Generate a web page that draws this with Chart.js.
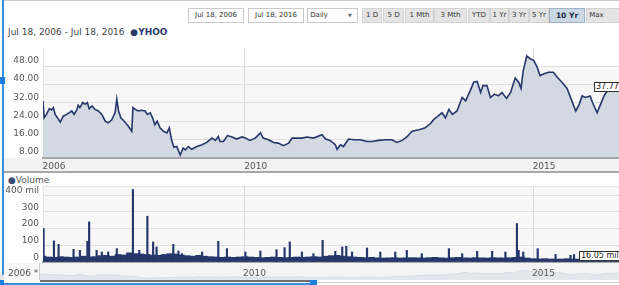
<!DOCTYPE html>
<html>
<head>
<meta charset="utf-8">
<script src="https://cdn.jsdelivr.net/npm/chart.js@4.4.1/dist/chart.umd.min.js"></script>
<style>
  html, body { margin: 0; padding: 0; }
  body { width: 619px; height: 285px; overflow: hidden; background: #fff; position: relative; font-family: "DejaVu Sans", sans-serif; color: #333; }
  .abs { position: absolute; }
  .box { position: absolute; top: 8px; height: 13px; line-height: 13px; font-size: 7px; border: 1px solid #c9c9c9; background: #fff; color: #333; box-sizing: content-box; white-space: nowrap; }
  .btn { position: absolute; top: 8px; height: 13px; line-height: 13px; font-size: 7px; background: #e4e4e4; border: 1px solid #d2d2d2; color: #333; text-align: center; white-space: nowrap; }
  .btn.on { background: #cbd7e4; border-color: #9fb2c8; font-weight: bold; font-size: 7.5px; color: #1d2a44; }
  canvas { position: absolute; left: 0; }
  .tag { position: absolute; font-size: 8px; line-height: 8px; padding: 0 1px; border: 1px solid #333; background: #fff; color: #222; white-space: nowrap; }
</style>
</head>
<body>

<!-- frame -->
<div class="abs" style="left:3px;top:0;width:616px;height:1px;background:#c9c9c9"></div>
<div class="abs" style="left:2px;top:0;width:2px;height:285px;background:#3b8fe0"></div>
<div class="abs" style="left:0;top:77px;width:5px;height:7px;background:#1f7fe0"></div>

<!-- toolbar -->
<div class="box" style="left:188px;width:54px;text-align:center">Jul 18, 2006</div>
<div class="box" style="left:248px;width:54px;text-align:center">Jul 18, 2016</div>
<div class="box" style="left:307px;width:49px;padding-left:0">&nbsp;Daily<span style="position:absolute;left:40px;font-size:5px;color:#666">&#9660;</span></div>
<div class="btn" style="left:362px;width:18px">1 D</div>
<div class="btn" style="left:383px;width:19px">5 D</div>
<div class="btn" style="left:405px;width:27px">1 Mth</div>
<div class="btn" style="left:434px;width:31px">3 Mth</div>
<div class="btn" style="left:468px;width:20px">YTD</div>
<div class="btn" style="left:490px;width:17px">1 Yr</div>
<div class="btn" style="left:509px;width:18px">3 Yr</div>
<div class="btn" style="left:529px;width:18px">5 Yr</div>
<div class="btn on" style="left:549px;width:34px">10 Yr</div>
<div class="btn" style="left:586px;width:40px;text-align:left">&nbsp;Max</div>

<!-- heading -->
<div class="abs" style="left:8px;top:27px;font-size:9px;color:#444;white-space:nowrap">Jul 18, 2006 - Jul 18, 2016 &nbsp;<b style="color:#2b3b6b">&#9679;YHOO</b></div>

<!-- price panel background -->
<div class="abs" style="left:43px;top:48px;width:576px;height:110px;background:#f7f7f7;border-top:1px solid #e4e4e4"></div>
<div class="abs" style="left:43px;top:48px;width:576px;height:19px;background:#fff"></div>
<div class="abs" style="left:4px;top:158px;width:615px;height:14px;background:#f2f2f2"></div>
<div class="abs" style="left:4px;top:171px;width:615px;height:2px;background:#a8a8a8"></div>
<canvas id="priceChart" width="619" height="127" style="top:46px"></canvas>
<div class="tag" style="left:594px;top:82px">37.77</div>

<!-- volume panel -->
<div class="abs" style="left:8px;top:175px;font-size:9px;color:#3a4a70;white-space:nowrap">&#9679;<span style="color:#555">Volume</span></div>
<div class="abs" style="left:43px;top:186px;width:576px;height:76px;background:#f8f8f8;border-top:1px solid #e4e4e4"></div>
<canvas id="volumeChart" width="619" height="80" style="top:183px"></canvas>
<div class="tag" style="left:579px;top:251px">16.05 mil</div>

<!-- navigator -->
<div class="abs" style="left:4px;top:263px;width:615px;height:17px;background:#f4f4f4"></div>
<canvas id="navChart" width="619" height="17" style="top:263px"></canvas>
<div class="abs" style="left:4px;top:263px;width:35px;height:17px;background:#f7f7f7;border-right:1px solid #cfcfcf"></div>
<div class="abs" style="left:8px;top:268px;font-size:9px;color:#555">2006 *</div>
<div class="abs" style="left:243px;top:268px;font-size:9px;color:#555">2010</div>
<div class="abs" style="left:532px;top:268px;font-size:9px;color:#555">2015</div>
<div class="abs" style="left:40px;top:280px;width:271px;height:2px;background:#6f6f6f"></div>
<div class="abs" style="left:0;top:283px;width:313px;height:2px;background:#3b8fe0"></div>
<div class="abs" style="left:317px;top:282px;width:302px;height:1px;background:#c9d3de"></div>
<div class="abs" style="left:0;top:280px;width:4px;height:5px;background:#1f7fe0"></div>
<div class="abs" style="left:310px;top:280px;width:7px;height:5px;background:#1f7fe0"></div>

<script>
// --- DATA ---
const X_MIN = 2006.5;
const X_MAX = 2016.49;

const priceYears = [
  2006.50, 2006.52, 2006.56, 2006.61, 2006.65, 2006.68, 2006.71, 2006.77, 2006.80, 2006.85,
  2006.91, 2006.97, 2007.00, 2007.04, 2007.09, 2007.11, 2007.14, 2007.19, 2007.23, 2007.27,
  2007.30, 2007.35, 2007.40, 2007.46, 2007.52, 2007.58, 2007.63, 2007.69, 2007.75, 2007.78,
  2007.81, 2007.85, 2007.91, 2007.98, 2008.04, 2008.06, 2008.10, 2008.15, 2008.21, 2008.27,
  2008.31, 2008.36, 2008.40, 2008.44, 2008.48, 2008.53, 2008.59, 2008.65, 2008.69, 2008.73,
  2008.77, 2008.82, 2008.88, 2008.93, 2008.97, 2009.02, 2009.08, 2009.17, 2009.26, 2009.34,
  2009.43, 2009.49, 2009.54, 2009.57, 2009.63, 2009.70, 2009.78, 2009.86, 2009.95, 2010.01,
  2010.09, 2010.18, 2010.27, 2010.32, 2010.41, 2010.50, 2010.58, 2010.67, 2010.76, 2010.82,
  2010.90, 2010.99, 2011.08, 2011.19, 2011.34, 2011.40, 2011.48, 2011.57, 2011.60, 2011.66,
  2011.71, 2011.80, 2011.89, 2012.00, 2012.12, 2012.21, 2012.32, 2012.44, 2012.55, 2012.64,
  2012.73, 2012.81, 2012.90, 2013.02, 2013.13, 2013.22, 2013.28, 2013.35, 2013.42, 2013.48,
  2013.54, 2013.60, 2013.68, 2013.77, 2013.83, 2013.91, 2013.97, 2014.03, 2014.09, 2014.13,
  2014.20, 2014.26, 2014.33, 2014.40, 2014.46, 2014.54, 2014.61, 2014.69, 2014.75, 2014.79,
  2014.83, 2014.89, 2014.95, 2015.01, 2015.07, 2015.12, 2015.19, 2015.27, 2015.35, 2015.42,
  2015.50, 2015.59, 2015.66, 2015.74, 2015.80, 2015.85, 2015.91, 2015.99, 2016.03, 2016.11,
  2016.17, 2016.23, 2016.31, 2016.40, 2016.49
];
const priceValues = [
  32.8, 25.4, 26.9, 29.4, 28.8, 29.9, 26.9, 24.7, 23.5, 26.1,
  26.9, 27.9, 28.4, 26.9, 29.1, 30.9, 29.9, 32.1, 31.3, 32.1,
  29.4, 30.6, 29.1, 28.4, 26.9, 23.9, 23.2, 24.4, 27.6, 33.6,
  28.4, 25.4, 23.9, 21.7, 19.5, 29.9, 29.1, 28.4, 28.7, 28.4,
  26.9, 27.6, 25.4, 22.4, 23.9, 21.0, 19.5, 18.8, 21.0, 15.8,
  12.5, 12.8, 9.1, 12.1, 11.3, 12.8, 11.6, 12.8, 13.6, 14.6,
  16.5, 15.5, 17.2, 15.0, 15.0, 17.6, 17.0, 16.1, 17.0, 16.5,
  15.5, 16.5, 18.8, 16.5, 15.8, 14.6, 14.3, 13.2, 14.3, 16.5,
  16.5, 16.5, 17.0, 16.5, 18.0, 16.1, 15.5, 13.6, 11.6, 13.6,
  12.8, 16.1, 15.8, 15.8, 15.0, 15.0, 15.5, 15.8, 15.8, 14.6,
  15.5, 17.0, 19.5, 20.2, 21.0, 22.9, 24.7, 26.1, 27.6, 25.4,
  29.1, 26.9, 28.4, 34.3, 32.8, 37.3, 41.0, 41.3, 36.5, 39.5,
  39.5, 34.3, 35.8, 35.0, 36.5, 33.9, 36.5, 42.8, 41.0, 38.3,
  46.1, 52.5, 51.3, 50.6, 47.6, 43.9, 44.7, 45.4, 45.4, 43.2,
  41.0, 38.3, 33.6, 28.4, 31.3, 35.0, 34.3, 35.0, 32.1, 27.6,
  31.3, 35.0, 38.0, 37.3, 38.3
];

// volume (millions): the dense everyday level ...
const volBaseYears = [
  2006.5, 2006.6, 2006.7, 2006.8, 2006.9,
  2007.0, 2007.1, 2007.2, 2007.3, 2007.4, 2007.5, 2007.6, 2007.7, 2007.8, 2007.9,
  2008.0, 2008.1, 2008.2, 2008.3, 2008.4, 2008.5, 2008.6, 2008.7, 2008.8, 2008.9,
  2009.0, 2009.1, 2009.2, 2009.3, 2009.4, 2009.5, 2009.6, 2009.7, 2009.8, 2009.9,
  2010.0, 2010.1, 2010.2, 2010.3, 2010.4, 2010.5, 2010.6, 2010.7, 2010.8, 2010.9,
  2011.0, 2011.1, 2011.2, 2011.3, 2011.4, 2011.5, 2011.6, 2011.7, 2011.8, 2011.9,
  2012.0, 2012.1, 2012.2, 2012.3, 2012.4, 2012.5, 2012.6, 2012.7, 2012.8, 2012.9,
  2013.0, 2013.1, 2013.2, 2013.3, 2013.4, 2013.5, 2013.6, 2013.7, 2013.8, 2013.9,
  2014.0, 2014.1, 2014.2, 2014.3, 2014.4, 2014.5, 2014.6, 2014.7, 2014.8, 2014.9,
  2015.0, 2015.1, 2015.2, 2015.3, 2015.4, 2015.5, 2015.6, 2015.7, 2015.8, 2015.9,
  2016.0, 2016.1, 2016.2, 2016.3, 2016.4, 2016.49
];
const volBaseValues = [
  35, 30, 28, 32, 30,
  28, 30, 35, 30, 32, 38, 40, 35, 45, 42,
  55, 50, 48, 45, 42, 40, 45, 50, 48, 42,
  38, 35, 40, 35, 32, 30, 28, 30, 28, 30,
  32, 30, 28, 26, 28, 30, 28, 26, 28, 30,
  28, 30, 32, 30, 35, 38, 40, 35, 32, 30,
  28, 26, 28, 25, 24, 25, 26, 24, 25, 26,
  25, 24, 26, 28, 25, 24, 26, 28, 25, 24,
  26, 25, 24, 26, 25, 24, 26, 28, 30, 24,
  20, 18, 20, 18, 17, 18, 20, 18, 17, 18,
  18, 17, 16, 17, 18, 16.05
];
// ... and the single-day spikes
const volSpikeYears = [
  2006.51, 2006.69, 2006.77, 2007.03, 2007.14, 2007.27, 2007.30, 2007.43, 2007.52, 2007.63,
  2007.78, 2008.06, 2008.17, 2008.31, 2008.41, 2008.47, 2008.76, 2008.85, 2008.91, 2009.26,
  2009.54, 2009.69, 2010.01, 2010.27, 2010.55, 2010.69, 2010.78, 2010.99, 2011.19, 2011.35,
  2011.57, 2011.69, 2011.76, 2011.86, 2012.12, 2012.35, 2012.61, 2012.81, 2013.07, 2013.54,
  2013.77, 2014.03, 2014.29, 2014.52, 2014.72, 2014.75, 2014.83, 2015.08, 2015.39, 2015.65,
  2015.71
];
const volSpikeValues = [
  200, 126, 106, 76, 70, 124, 240, 70, 60, 60,
  80, 434, 70, 274, 120, 90, 106, 66, 50, 60,
  124, 80, 60, 66, 74, 86, 120, 60, 50, 130,
  64, 90, 94, 60, 84, 60, 60, 70, 50, 80,
  50, 64, 64, 60, 230, 70, 60, 80, 45, 40,
  45
];

const priceTicks = [8, 16, 24, 32, 40, 48];
const volumeTicks = [0, 100, 200, 300, 400];
const yearTicks = [2006.5, 2010, 2015];
const yearLabels = ['2006', '2010', '2015'];

// --- STYLE ---
const NAVY = '#25376a';
const AREA = '#d3d9e2';
const GRID = '#e0e0e0';
const VGRID = '#d9d9d9';
const LABEL = '#555';
const FONT = { family: 'DejaVu Sans', size: 9 };

const toPoints = (xs, ys) => xs.map((x, i) => ({ x: x, y: ys[i] }));

const fixTicks = (list) => (scale) => { scale.ticks = list.map(v => ({ value: v })); };
const noPad = (size, key) => (scale) => {
  scale[key] = size;
  scale.paddingTop = 0; scale.paddingBottom = 0;
  scale.paddingLeft = 0; scale.paddingRight = 0;
};

const baseOptions = {
  responsive: false,
  animation: false,
  events: [],
  plugins: { legend: { display: false }, tooltip: { enabled: false } },
};

const yearAxis = (showLabels, height) => ({
  type: 'linear',
  min: X_MIN,
  max: X_MAX,
  offset: false,
  afterBuildTicks: fixTicks(yearTicks),
  afterFit: noPad(height, 'height'),
  grid: {
    offset: false,
    drawTicks: false,
    color: (c) => (c.tick && c.tick.value === X_MIN) ? '#e4e4e4' : VGRID,
  },
  border: { display: true, color: '#a5a5a5', width: 2 },
  ticks: {
    display: showLabels,
    autoSkip: false,
    maxRotation: 0,
    padding: 4,
    labelOffset: 11,
    color: LABEL,
    font: FONT,
    callback: (v) => yearLabels[yearTicks.indexOf(v)],
  },
});

// --- PRICE ---
new Chart(document.getElementById('priceChart').getContext('2d'), {
  type: 'line',
  data: {
    datasets: [{
      data: toPoints(priceYears, priceValues),
      borderColor: NAVY,
      borderWidth: 1.6,
      backgroundColor: AREA,
      fill: 'start',
      pointRadius: 0,
      tension: 0,
    }]
  },
  options: {
    ...baseOptions,
    layout: { padding: { top: 2, left: 0, right: 0, bottom: 0 } },
    scales: {
      x: yearAxis(true, 15.5),
      y: {
        min: 8,
        max: 56,
        afterBuildTicks: fixTicks(priceTicks),
        afterFit: noPad(43, 'width'),
        grid: { drawTicks: false, color: GRID },
        border: { display: false },
        ticks: {
          padding: 4,
          labelOffset: -5.5,
          color: LABEL,
          font: FONT,
          callback: (v) => v.toFixed(2),
        },
      },
    },
  },
});

// --- VOLUME ---
new Chart(document.getElementById('volumeChart').getContext('2d'), {
  type: 'bar',
  data: {
    datasets: [
      {
        data: toPoints(volBaseYears, volBaseValues),
        backgroundColor: NAVY,
        barThickness: 6,
        grouped: false,
      },
      {
        data: toPoints(volSpikeYears, volSpikeValues),
        backgroundColor: NAVY,
        barThickness: 1.5,
        grouped: false,
      },
    ]
  },
  options: {
    ...baseOptions,
    layout: { padding: { top: 3, left: 0, right: 0, bottom: 0 } },
    scales: {
      x: yearAxis(false, 1),
      y: {
        min: 0,
        max: 455,
        afterBuildTicks: fixTicks(volumeTicks),
        afterFit: noPad(43, 'width'),
        grid: { drawTicks: false, color: GRID },
        border: { display: false },
        ticks: {
          padding: 4,
          labelOffset: -4.5,
          color: LABEL,
          font: FONT,
          callback: (v) => v === 400 ? '400 mil' : String(v),
        },
      },
    },
  },
});

// --- NAVIGATOR ---
new Chart(document.getElementById('navChart').getContext('2d'), {
  type: 'line',
  data: {
    datasets: [{
      data: toPoints(priceYears, priceValues),
      borderColor: '#d5dbe4',
      borderWidth: 1,
      backgroundColor: '#e3e7ed',
      fill: 'start',
      pointRadius: 0,
      tension: 0,
    }]
  },
  options: {
    ...baseOptions,
    layout: { padding: 0 },
    scales: {
      x: { type: 'linear', display: false, min: X_MIN, max: X_MAX },
      y: { display: false, min: 0, max: 95 },
    },
  },
});
</script>
</body>
</html>
